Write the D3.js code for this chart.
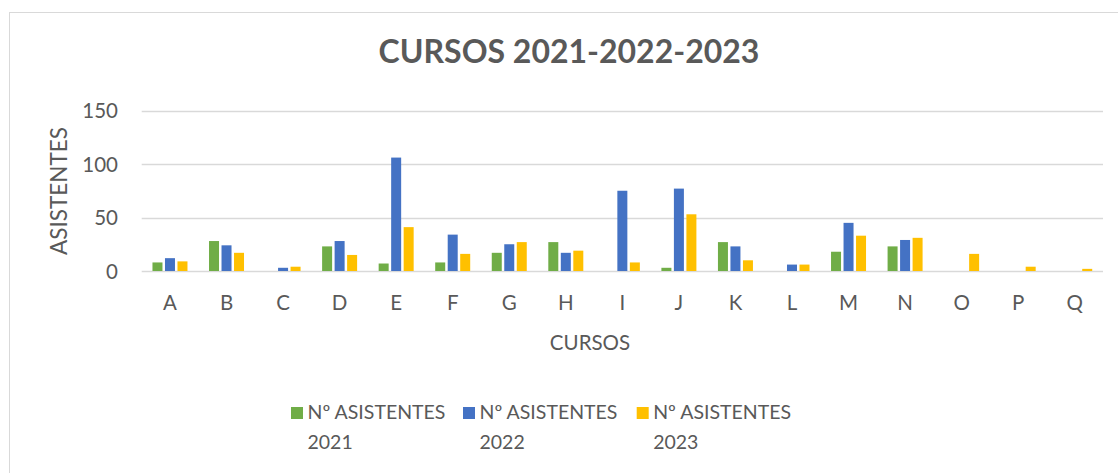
<!DOCTYPE html>
<html><head><meta charset="utf-8">
<script src="https://cdn.jsdelivr.net/npm/d3@7/dist/d3.min.js"></script>
<style>
html,body{margin:0;padding:0;background:#fff;}
svg{display:block;font-family:Lato,"Open Sans",sans-serif;}
</style></head>
<body><svg id="chart" width="1118" height="473"></svg>
<script>
const categories = ["A","B","C","D","E","F","G","H","I","J","K","L","M","N","O","P","Q"];
const seriesNames = ["Nº ASISTENTES 2021","Nº ASISTENTES 2022","Nº ASISTENTES 2023"];
const values2021 = [8,28,0,23,7,8,17,27,0,3,27,0,18,23,0,0,0];
const values2022 = [12,24,3,28,106,34,25,17,75,77,23,6,45,29,0,0,0];
const values2023 = [9,17,4,15,41,16,27,19,8,53,10,6,33,31,16,4,2];
const yTicks = [0,50,100,150];
const colors = ["#70AD47","#4472C4","#FFC000"];

const series = [values2021, values2022, values2023];
const svg = d3.select("#chart");
const textColor = "#595959";

// chart border
svg.append("rect").attr("x",9.5).attr("y",12.5).attr("width",1130).attr("height",480)
  .attr("fill","#fff").attr("stroke","#D9D9D9").attr("stroke-width",1);

const x0 = d3.scaleBand().domain(categories).range([141.7,1103]).paddingInner(0).paddingOuter(0);
const y = d3.scaleLinear().domain([0,150]).range([271,110.5]);
const groupW = 35;
const x1 = d3.scaleBand().domain(d3.range(3)).range([-groupW/2, groupW/2]).paddingInner(0.2).paddingOuter(0);

// gridlines
svg.append("g").selectAll("line").data(yTicks).join("line")
  .attr("x1",141.7).attr("x2",1103)
  .attr("y1",d=>Math.round(y(d))+0.5).attr("y2",d=>Math.round(y(d))+0.5)
  .attr("stroke","#D9D9D9").attr("stroke-width",1.3);

// y axis labels
const yAxis = d3.axisLeft(y).tickValues(yTicks).tickSize(0).tickPadding(0);
const gy = svg.append("g").attr("transform","translate(118,0)").call(yAxis);
gy.select(".domain").remove();
gy.selectAll("text").attr("fill",textColor).style("font-size","20.5px")
  .style("font-family","Lato, 'Open Sans', sans-serif").attr("dy","0.36em");

// bars
const g = svg.append("g");
categories.forEach((c,i)=>{
  series.forEach((vals,s)=>{
    const v = vals[i];
    if(!v) return;
    g.append("rect")
      .attr("x", x0(c) + x0.bandwidth()/2 + x1(s))
      .attr("width", x1.bandwidth())
      .attr("y", y(v))
      .attr("height", y(0)-y(v))
      .attr("fill", colors[s]);
  });
});

// x axis labels
const xAxis = d3.axisBottom(x0).tickSize(0).tickPadding(0);
const gx = svg.append("g").attr("transform","translate(0,295.5)").call(xAxis);
gx.select(".domain").remove();
gx.selectAll("text").attr("fill",textColor).style("font-size","20.5px")
  .style("font-family","Lato, 'Open Sans', sans-serif").attr("dy","0.71em");

// title
svg.append("text").attr("x",569).attr("y",63).attr("text-anchor","middle")
  .attr("fill",textColor).style("font-size","32px").style("font-weight","bold")
  .text("CURSOS 2021-2022-2023");

// axis titles
svg.append("text").attr("x",590).attr("y",350).attr("text-anchor","middle")
  .attr("fill",textColor).style("font-size","20.5px").text("CURSOS");
svg.append("text").attr("transform","translate(67,191) rotate(-90)").attr("text-anchor","middle")
  .attr("fill",textColor).style("font-size","22.5px").text("ASISTENTES");

// legend
const legX = [291,463,636.7];
const leg = svg.append("g");
seriesNames.forEach((n,i)=>{
  leg.append("rect").attr("x",legX[i]).attr("y",407).attr("width",12).attr("height",12).attr("fill",colors[i]);
  const parts = n.split(" ");
  const t = leg.append("text").attr("fill",textColor).style("font-size","19.5px");
  t.append("tspan").attr("x",legX[i]+16.5).attr("y",419).text(parts.slice(0,2).join(" "));
  t.append("tspan").attr("x",legX[i]+16.5).attr("y",449).text(parts[2]);
});
</script></body></html>
